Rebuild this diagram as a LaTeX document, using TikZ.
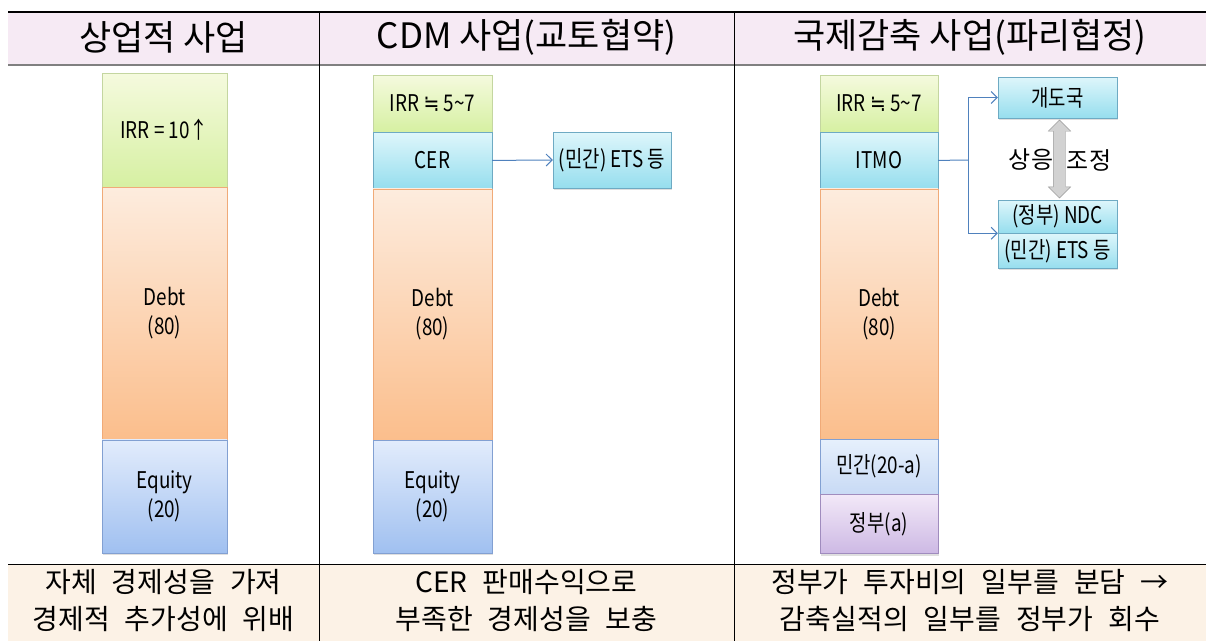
\documentclass[tikz,border=0pt]{standalone}
\usepackage{fontspec}
\setmainfont{Noto Sans CJK KR}
\newfontfamily\barfont{Noto Sans CJK KR}[FakeStretch=0.82]
\newfontfamily\ftfont{Noto Sans CJK KR}[WordSpace=2.4]
\newfontfamily\symfont{DejaVu Sans}[FakeStretch=0.82]
\usepackage{tikz}
\usetikzlibrary{positioning,calc,shapes.arrows,shadows,arrows.meta}

\definecolor{hdbg}{RGB}{246,234,244}
\definecolor{ftbg}{RGB}{252,242,230}
\definecolor{irrtop}{RGB}{245,250,222}
\definecolor{irrbot}{RGB}{214,240,162}
\definecolor{irrline}{RGB}{196,214,160}
\definecolor{cyntop}{RGB}{222,246,251}
\definecolor{cynbot}{RGB}{150,222,238}
\definecolor{cynline}{RGB}{110,170,195}
\definecolor{dbttop}{RGB}{253,236,222}
\definecolor{dbtbot}{RGB}{251,190,140}
\definecolor{dbtline}{RGB}{240,170,120}
\definecolor{eqtop}{RGB}{226,236,252}
\definecolor{eqbot}{RGB}{160,192,240}
\definecolor{eqline}{RGB}{130,160,210}
\definecolor{mintop}{RGB}{230,240,252}
\definecolor{minbot}{RGB}{200,218,245}
\definecolor{govtop}{RGB}{242,232,248}
\definecolor{govbot}{RGB}{205,185,228}
\definecolor{govline}{RGB}{160,140,190}
\definecolor{conn}{RGB}{79,129,189}

\newcommand{\approxeq}{{\symfont ≒}}

\tikzset{
  seg/.style={draw=#1, inner sep=0pt, align=center,
    font=\barfont\fontsize{23}{29}\selectfont,
    drop shadow={shadow xshift=1pt, shadow yshift=-2pt, opacity=.25}},
  irr/.style={seg=irrline, top color=irrtop, bottom color=irrbot},
  cyn/.style={seg=cynline, top color=cyntop, bottom color=cynbot},
  dbt/.style={seg=dbtline, top color=dbttop, bottom color=dbtbot},
  eqty/.style={seg=eqline, top color=eqtop, bottom color=eqbot},
  minv/.style={seg=eqline, top color=mintop, bottom color=minbot},
  gov/.style={seg=govline, top color=govtop, bottom color=govbot},
  hd/.style={font=\fontsize{35}{40}\selectfont},
  ft/.style={align=center, font=\ftfont\fontsize{28}{37}\selectfont},
  lnk/.style={draw=conn, line width=1pt, -{Straight Barb[length=6pt,width=12pt]}},
  dbl/.style={shape=double arrow, rotate=90, draw=gray!80, fill=gray!35,
    minimum height=78pt, double arrow head extend=5pt, inner sep=6pt}
}

\begin{document}
\begin{tikzpicture}[x=1pt, y=-1pt]
\useasboundingbox (0,0) rectangle (1207,641);
% table frame
\fill[hdbg] (8,12) rectangle (1206,65);
\fill[ftbg] (8,564) rectangle (1206,641);
\draw[line width=1.2pt] (8,12) -- (1206,12);
\draw[line width=2pt, gray] (8,65) -- (1206,65);
\draw (8,564) -- (1206,564);
\draw (319,12) -- (319,641);
\draw (734,12) -- (734,641);

\node[hd] (hdA) at (163.5,37) {상업적 사업};
\node[hd] (hdB) at (526.5,37) {CDM 사업(교토협약)};
\node[hd] (hdC) at (970,37) {국제감축 사업(파리협정)};

% commercial project
\node[irr, minimum width=125pt, minimum height=114pt] (irrA) at (164.5,130) {IRR = 10↑};
\node[dbt, minimum width=125pt, minimum height=252pt, below=0pt of irrA] (debtA) {Debt\\(80)};
\node[eqty, minimum width=125pt, minimum height=113pt, below=0pt of debtA] (eqA) {Equity\\(20)};

% CDM project
\node[irr, minimum width=119pt, minimum height=57pt] (irrB) at (432.5,103.5) {IRR \approxeq{} 5\textasciitilde7};
\node[cyn, minimum width=119pt, minimum height=56pt, below=0pt of irrB] (cerB) {CER};
\node[dbt, minimum width=119pt, minimum height=251pt, below=0pt of cerB] (debtB) {Debt\\(80)};
\node[eqty, minimum width=119pt, minimum height=113pt, below=0pt of debtB] (eqB) {Equity\\(20)};
\node[cyn, minimum width=118pt, minimum height=56pt] (etsB) at (612,160) {(민간) ETS 등};
\draw[lnk] (cerB.east) -- (etsB.west);

% international mitigation project
\node[irr, minimum width=118pt, minimum height=57pt] (irrC) at (879,103.5) {IRR \approxeq{} 5\textasciitilde7};
\node[cyn, minimum width=118pt, minimum height=56pt, below=0pt of irrC] (itmoC) {ITMO};
\node[dbt, minimum width=118pt, minimum height=250pt, below=0pt of itmoC] (debtC) {Debt\\(80)};
\node[minv, minimum width=118pt, minimum height=55pt, below=0pt of debtC] (minC) {민간(20-a)};
\node[gov, minimum width=118pt, minimum height=59pt, below=0pt of minC] (govC) {정부(a)};

\node[cyn, minimum width=119pt, minimum height=41pt] (devC) at (1057.5,97.5) {개도국};
\node[cyn, minimum width=119pt, minimum height=33pt] (ndcC) at (1057.5,216.5) {(정부) NDC};
\node[cyn, minimum width=119pt, minimum height=35pt, below=0pt of ndcC] (etsC) {(민간) ETS 등};

\coordinate (fork) at (968,160);
\draw[draw=conn, line width=1pt] (itmoC.east) -- (fork);
\draw[lnk] (fork) |- (devC.west);
\draw[lnk] (fork) |- (ndcC.south west);

\node[dbl] (adj) at ($(devC.south)!.5!(ndcC.north)+(2,0)$) {};
\node[font=\fontsize{24}{28}\selectfont] (adjL) at (1031,160) {상응};
\node[font=\fontsize{24}{28}\selectfont] (adjR) at (1089,160) {조정};

% bottom notes
\node[ft] (ftA) at (163.5,601) {자체 경제성을 가져\\경제적 추가성에 위배};
\node[ft] (ftB) at (526.5,601) {CER 판매수익으로\\부족한 경제성을 보충};
\node[ft] (ftC) at (970,601) {정부가 투자비의 일부를 분담 →\\감축실적의 일부를 정부가 회수};
\end{tikzpicture}
\end{document}
